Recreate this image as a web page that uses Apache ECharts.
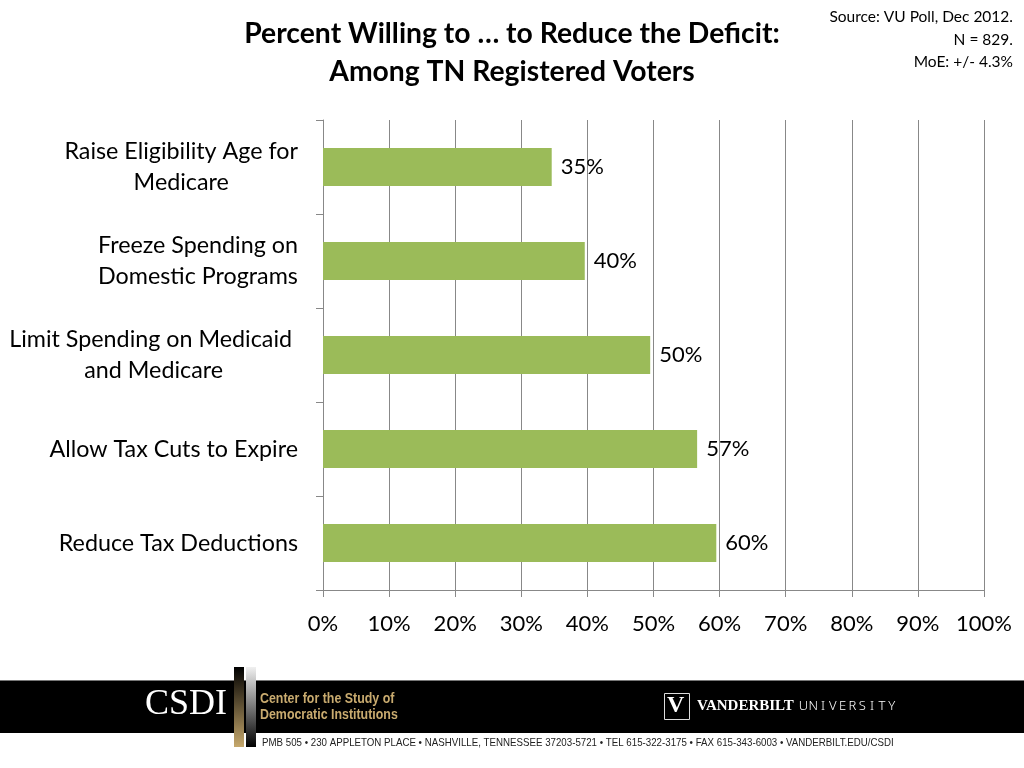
<!DOCTYPE html>
<html>
<head>
<meta charset="utf-8">
<script src="https://cdn.jsdelivr.net/npm/echarts@6/dist/echarts.min.js"></script>
<style>html,body{margin:0;padding:0;background:#fff}#c{width:1024px;height:768px}</style>
</head>
<body>
<div id="c"></div>
<script>
const categories = [
  'Raise Eligibility Age for\nMedicare',
  'Freeze Spending on\nDomestic Programs',
  'Limit Spending on Medicaid \nand Medicare',
  'Allow Tax Cuts to Expire',
  'Reduce Tax Deductions'
];
const values = [34.6, 39.6, 49.5, 56.6, 59.5];
const valueLabels = ['35%', '40%', '50%', '57%', '60%'];
const xTicks = [0, 10, 20, 30, 40, 50, 60, 70, 80, 90, 100];

const chart = echarts.init(document.getElementById('c'), null, {renderer: 'canvas'});
const FONT = 'Lato';
const NARROW = '"Liberation Sans Narrow", "Liberation Sans", sans-serif';

const univ = 'UNIVERSITY'.split('').map((ch, i) => ({
  type: 'text', x: 803.5 + i * 9.8, y: 700,
  style: {text: ch, align: 'center', fill: '#fff', font: '300 13px "Noto Sans", sans-serif'}
}));

chart.setOption({
  animation: false,
  title: {
    text: 'Percent Willing to … to Reduce the Deficit:\nAmong TN Registered Voters',
    left: 'center', top: 10,
    textStyle: {fontFamily: FONT, fontWeight: 'bold', fontSize: 28.3, lineHeight: 38, color: '#000'}
  },
  grid: {left: 323, right: 40, top: 120, bottom: 178, containLabel: false},
  xAxis: {
    type: 'value', min: 0, max: 100, interval: 10,
    axisLine: {show: true, lineStyle: {color: '#888', width: 1}},
    axisTick: {show: true, length: 7, lineStyle: {color: '#888'}},
    splitLine: {show: true, lineStyle: {color: '#888', width: 1}},
    axisLabel: {
      margin: 23, fontFamily: FONT, fontSize: 22, color: '#000',
      formatter: v => xTicks.indexOf(v) >= 0 ? v + '%' : ''
    }
  },
  yAxis: {
    type: 'category', inverse: true, data: categories,
    axisLine: {show: true, lineStyle: {color: '#888'}},
    axisTick: {show: true, length: 7, lineStyle: {color: '#888'}},
    axisLabel: {
      margin: 25, fontFamily: FONT, fontSize: 23.3, color: '#000', lineHeight: 31,
      formatter: v => v.split('\n').map(l => '{c|' + l + '}').join('\n'),
      rich: {c: {align: 'center', fontFamily: FONT, fontSize: 23.3, lineHeight: 31, color: '#000'}}
    }
  },
  series: [{
    type: 'bar', data: values, barWidth: 38,
    itemStyle: {color: '#9bbb59'},
    label: {
      show: true, position: 'right', distance: 9,
      fontFamily: FONT, fontSize: 22, color: '#000',
      formatter: p => valueLabels[p.dataIndex]
    }
  }],
  graphic: [
    {type: 'text', x: 1013, y: 6,
     style: {text: 'Source: VU Poll, Dec 2012.\nN = 829.\nMoE: +/- 4.3%', align: 'right',
             font: '15.5px ' + FONT, lineHeight: 22.5, fill: '#000'}},
    {type: 'rect', shape: {x: 0, y: 680, width: 1024, height: 1}, style: {fill: '#777'}},
    {type: 'rect', shape: {x: 0, y: 681, width: 1024, height: 52}, style: {fill: '#000'}},
    {type: 'text', x: 145, y: 687,
     style: {text: 'CSDI', fill: '#fff', font: '36px "Liberation Serif", serif'}},
    {type: 'rect', shape: {x: 234, y: 667, width: 10, height: 80},
     style: {fill: new echarts.graphic.LinearGradient(0, 0, 0, 1, [{offset: 0, color: '#000'}, {offset: 1, color: '#c6a86c'}])}},
    {type: 'rect', shape: {x: 246, y: 667, width: 10, height: 80},
     style: {fill: new echarts.graphic.LinearGradient(0, 0, 0, 1, [{offset: 0, color: '#f0f0f0'}, {offset: 1, color: '#000'}])}},
    {type: 'text', x: 260, y: 691, scaleX: 0.8,
     style: {text: 'Center for the Study of\nDemocratic Institutions', fill: '#c9ab6f',
             font: 'bold 15.5px ' + NARROW, lineHeight: 16}},
    {type: 'rect', shape: {x: 664.5, y: 693.5, width: 25, height: 26},
     style: {fill: '#000', stroke: '#ddd', lineWidth: 1}},
    {type: 'text', x: 667, y: 694,
     style: {text: 'V', fill: '#fff', font: 'bold 24px "Liberation Serif", serif'}},
    {type: 'text', x: 697, y: 699,
     style: {text: 'VANDERBILT', fill: '#fff', font: 'bold 15px "Liberation Serif", serif'}},
    ...univ,
    {type: 'text', x: 262, y: 737, scaleX: 0.845,
     style: {text: 'PMB 505 • 230 APPLETON PLACE • NASHVILLE, TENNESSEE 37203-5721 • TEL 615-322-3175 • FAX 615-343-6003 • VANDERBILT.EDU/CSDI',
             fill: '#222', font: '11.5px ' + NARROW}}
  ]
});
</script>
</body>
</html>
